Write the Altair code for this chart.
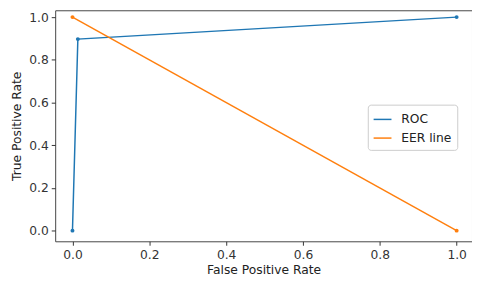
import altair as alt
import pandas as pd

roc_fpr = [0.0, 0.014, 1.0]
roc_tpr = [0.0, 0.897, 1.0]
eer_x = [0.0, 1.0]
eer_y = [1.0, 0.0]
series_names = ["ROC", "EER line"]
colors = ["#1f77b4", "#ff7f0e"]
ticks = [0.0, 0.2, 0.4, 0.6, 0.8, 1.0]

rows = []
for i, (x, y) in enumerate(zip(roc_fpr, roc_tpr)):
    rows.append({"fpr": x, "tpr": y, "series": series_names[0], "order": i})
for i, (x, y) in enumerate(zip(eer_x, eer_y)):
    rows.append({"fpr": x, "tpr": y, "series": series_names[1], "order": i})
df = pd.DataFrame(rows)

FONT = "DejaVu Sans"
axis_common = dict(
    values=ticks, format=".1f", grid=False, domain=False,
    tickColor="#333", tickSize=4, labelColor="#333", labelFontSize=12.5,
    labelFont=FONT, titleFont=FONT, titleFontSize=12.5,
    titleFontWeight="normal", titleColor="#222", labelPadding=3,
)

x = alt.X("fpr:Q", title="False Positive Rate",
          scale=alt.Scale(domain=[-0.045, 1.04], nice=False, zero=False),
          axis=alt.Axis(**axis_common, titlePadding=3))
y = alt.Y("tpr:Q", title="True Positive Rate",
          scale=alt.Scale(domain=[-0.05, 1.032], nice=False, zero=False),
          axis=alt.Axis(**axis_common, titlePadding=5))
color = alt.Color("series:N", scale=alt.Scale(domain=series_names, range=colors),
                  legend=alt.Legend(title=None, orient="none", legendX=318, legendY=96,
                                    symbolType="stroke", symbolStrokeWidth=1.5,
                                    symbolSize=330, labelFont=FONT, labelOffset=9,
                                    labelFontSize=12.5, labelColor="#222",
                                    fillColor="white", strokeColor="#ccc",
                                    padding=5, cornerRadius=3, rowPadding=2))

base = alt.Chart(df).encode(x=x, y=y, color=color, order="order:Q",
                            detail="series:N")
lines = base.mark_line(strokeWidth=1.5, clip=False)
pts = base.mark_point(filled=True, size=16, opacity=1, clip=False)

chart = alt.layer(lines, pts).properties(
    width=472, height=270,
    autosize=alt.AutoSizeParams(type="fit", contains="padding"),
    padding={"left": 3, "top": 0, "right": 0, "bottom": 0},
).configure_view(stroke="#444", strokeWidth=1)

chart.save("out.html", embed_options={"renderer": "svg", "actions": False})
